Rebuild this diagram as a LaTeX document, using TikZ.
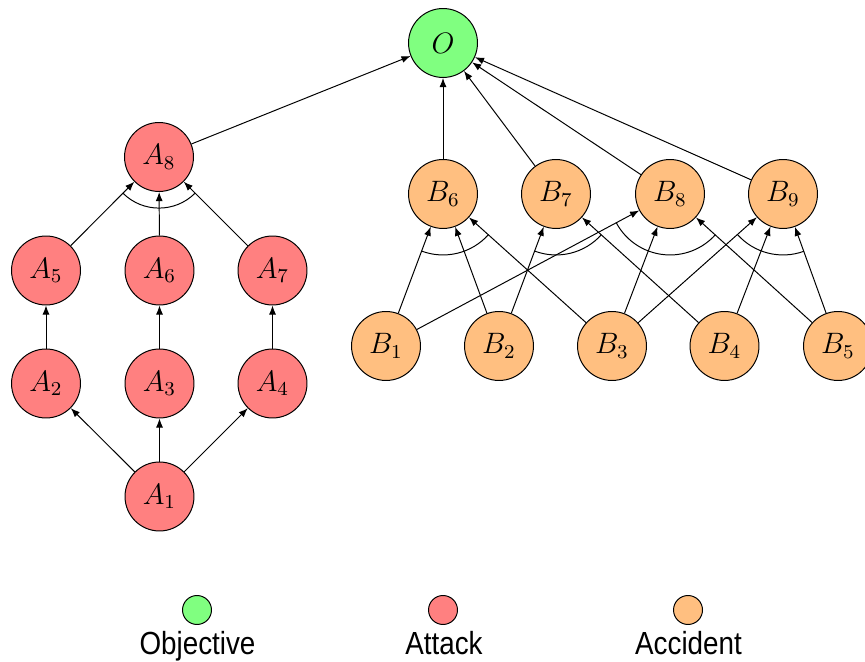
\documentclass[tikz,border=0pt]{standalone}
\usepackage{fontspec}
\usepackage{graphicx}
\newfontfamily\legendfont{Liberation Sans}
\usetikzlibrary{arrows.meta}
\definecolor{objgreen}{RGB}{128,255,128}
\definecolor{atkred}{RGB}{255,128,128}
\definecolor{accorange}{RGB}{255,191,128}
\begin{document}
\begin{tikzpicture}[x=0.142857mm, y=0.142857mm,
  event/.style={circle, draw, minimum size=0.985cm, inner sep=0pt, font=\large},
  objective/.style={event, fill=objgreen},
  attack/.style={event, fill=atkred},
  accident/.style={event, fill=accorange},
  edge/.style={-{Latex[length=1.3mm,width=1mm]}},
  swatch/.style={circle, draw, minimum size=0.414cm, inner sep=0pt},
  legendtext/.style={anchor=base, inner sep=0pt, font=\legendfont\fontsize{11.3}{13}\selectfont}]
\useasboundingbox (0,0) rectangle (865,662);

% objective
\node[objective] (O) at (443,619) {$O$};

% attack tree
\node[attack] (A8) at (159,505) {$A_8$};
\node[attack] (A5) at (46,391.5) {$A_5$};
\node[attack] (A6) at (159.5,391.5) {$A_6$};
\node[attack] (A7) at (272.5,391.5) {$A_7$};
\node[attack] (A2) at (46,278.5) {$A_2$};
\node[attack] (A3) at (159.5,278.5) {$A_3$};
\node[attack] (A4) at (272.5,278.5) {$A_4$};
\node[attack] (A1) at (159.5,165.5) {$A_1$};

% accident tree
\node[accident] (B6) at (443,468) {$B_6$};
\node[accident] (B7) at (556,468) {$B_7$};
\node[accident] (B8) at (670,468) {$B_8$};
\node[accident] (B9) at (783,468) {$B_9$};
\node[accident] (B1) at (386,316) {$B_1$};
\node[accident] (B2) at (499,316) {$B_2$};
\node[accident] (B3) at (612,316) {$B_3$};
\node[accident] (B4) at (724.5,316) {$B_4$};
\node[accident] (B5) at (838,316) {$B_5$};

% attack edges
\draw[edge] (A1) -- (A2);
\draw[edge] (A1) -- (A3);
\draw[edge] (A1) -- (A4);
\draw[edge] (A2) -- (A5);
\draw[edge] (A3) -- (A6);
\draw[edge] (A4) -- (A7);
\draw[edge] (A5) -- (A8);
\draw[edge] (A6) -- (A8);
\draw[edge] (A7) -- (A8);
\draw[edge] (A8) -- (O);

% accident edges
\draw[edge] (B6) -- (O);
\draw[edge] (B7) -- (O);
\draw[edge] (B8) -- (O);
\draw[edge] (B9) -- (O);
\draw[edge] (B1) -- (B6);
\draw[edge] (B2) -- (B6);
\draw[edge] (B3) -- (B6);
\draw[edge] (B2) -- (B7);
\draw[edge] (B4) -- (B7);
\draw[edge] (B1) -- (B8);
\draw[edge] (B3) -- (B8);
\draw[edge] (B5) -- (B8);
\draw[edge] (B3) -- (B9);
\draw[edge] (B4) -- (B9);
\draw[edge] (B5) -- (B9);

% AND arcs
\draw ([shift={(-135:0.73cm)}]A8.center) arc[start angle=-135, end angle=-45, radius=0.73cm];
\draw ([shift={(-110.6:0.871cm)}]B6.center) arc[start angle=-110.6, end angle=-42, radius=0.871cm];
\draw ([shift={(-110.6:0.871cm)}]B7.center) arc[start angle=-110.6, end angle=-42, radius=0.871cm];
\draw ([shift={(-151.8:0.871cm)}]B8.center) arc[start angle=-151.8, end angle=-42.1, radius=0.871cm];
\draw ([shift={(-138.4:0.871cm)}]B9.center) arc[start angle=-138.4, end angle=-70, radius=0.871cm];

% legend
\node[swatch, fill=objgreen] (Lo) at (197,52) {};
\node[swatch, fill=atkred] (La) at (443,52) {};
\node[swatch, fill=accorange] (Lc) at (688,52) {};
\node[legendtext] (To) at (197.5,7) {\scalebox{1}[1.15]{Objective}};
\node[legendtext] (Ta) at (444,7) {\scalebox{1}[1.15]{Attack}};
\node[legendtext] (Tc) at (688.5,7) {\scalebox{1}[1.15]{Accident}};
\end{tikzpicture}
\end{document}
